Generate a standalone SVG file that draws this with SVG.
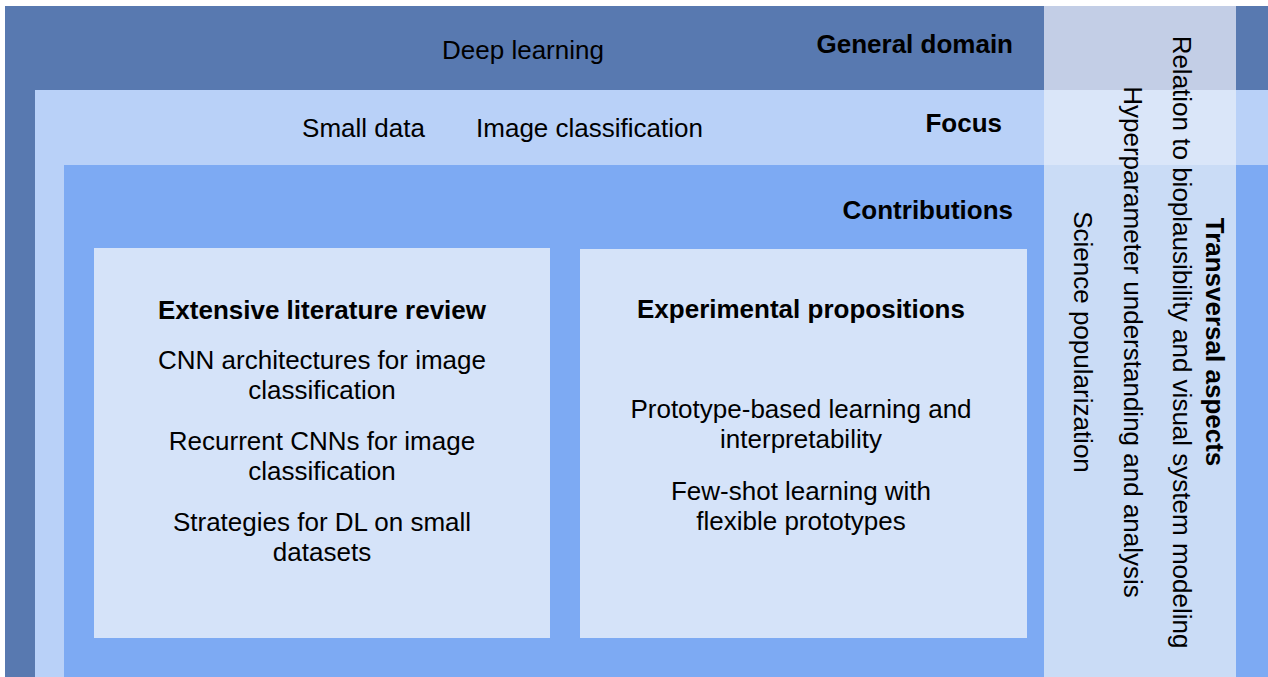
<svg xmlns="http://www.w3.org/2000/svg" width="1268" height="677" viewBox="0 0 1268 677">
<style>
text{font-family:"Liberation Sans",Arial,sans-serif;font-size:26px;fill:#000}
.b{font-weight:bold}
.m{text-anchor:middle}
.e{text-anchor:end}
</style>
<rect width="1268" height="677" fill="#ffffff"/>
<g id="general-domain">
<rect x="5" y="6" width="1263" height="671" fill="#5879b0"/>
<text class="m" x="523" y="59">Deep learning</text>
<text class="b e" x="1013" y="53">General domain</text>
</g>
<g id="focus">
<rect x="35" y="90" width="1233" height="587" fill="#b9d1f8"/>
<text class="m" x="363.5" y="137">Small data</text>
<text class="m" x="589.5" y="137">Image classification</text>
<text class="b e" x="1002" y="132">Focus</text>
</g>
<g id="contributions">
<rect x="64" y="165" width="1204" height="512" fill="#7daaf3"/>
<text class="b e" x="1013" y="219">Contributions</text>
</g>
<g id="literature-review">
<rect x="94" y="248" width="456" height="390" fill="#d5e3f9"/>
<text class="b m" x="322" y="319">Extensive literature review</text>
<text class="m" x="322" y="369">CNN architectures for image</text>
<text class="m" x="322" y="399">classification</text>
<text class="m" x="322" y="450">Recurrent CNNs for image</text>
<text class="m" x="322" y="480">classification</text>
<text class="m" x="322" y="531">Strategies for DL on small</text>
<text class="m" x="322" y="561">datasets</text>
</g>
<g id="experimental-propositions">
<rect x="580" y="249" width="447" height="389" fill="#d5e3f9"/>
<text class="b m" x="801" y="318">Experimental propositions</text>
<text class="m" x="801" y="418">Prototype-based learning and</text>
<text class="m" x="801" y="448">interpretability</text>
<text class="m" x="801" y="500">Few-shot learning with</text>
<text class="m" x="801" y="530">flexible prototypes</text>
</g>
<g id="transversal-aspects">
<rect x="1044" y="6" width="192" height="84" fill="#c3cee6"/>
<rect x="1044" y="90" width="192" height="75" fill="#dae6f9"/>
<rect x="1044" y="165" width="192" height="512" fill="#cadcf6"/>
<text class="b m" transform="translate(1206,342) rotate(90)">Transversal aspects</text>
<text class="m" transform="translate(1173,342) rotate(90)">Relation to bioplausibility and visual system modeling</text>
<text class="m" transform="translate(1124,342) rotate(90)">Hyperparameter understanding and analysis</text>
<text class="m" transform="translate(1074,342) rotate(90)">Science popularization</text>
</g>
<g id="connectors"/>
</svg>
